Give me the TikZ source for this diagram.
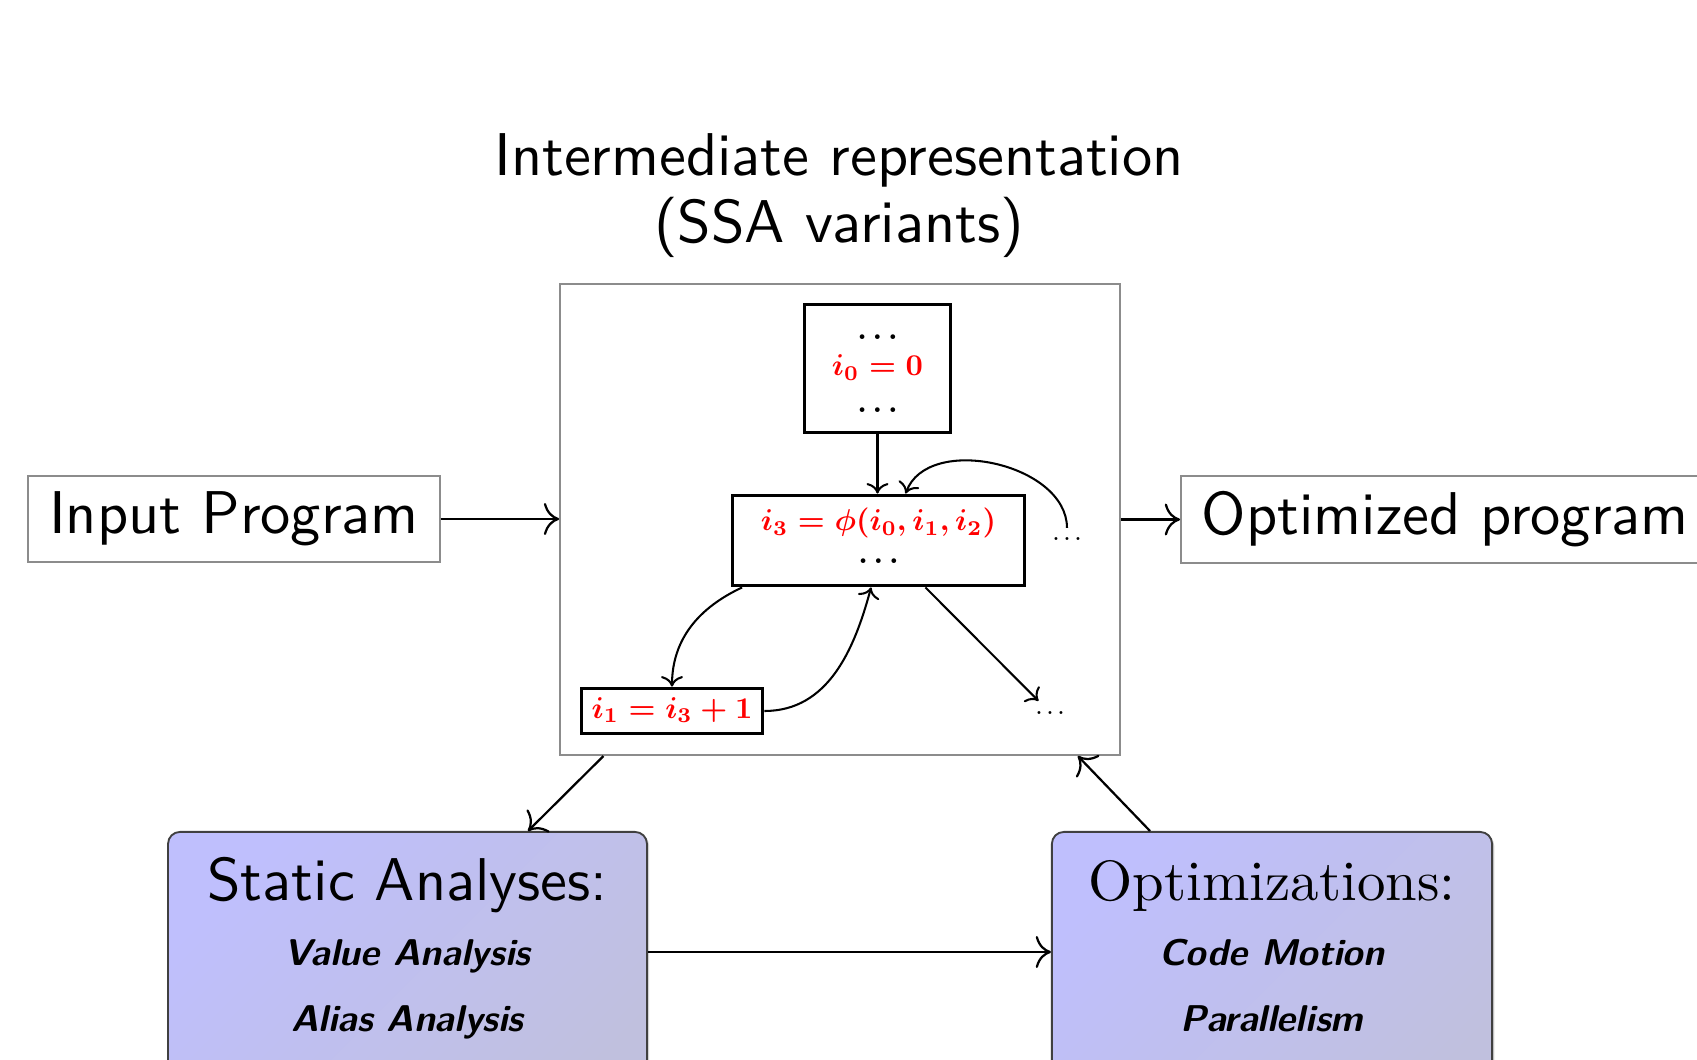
\documentclass[tikz,border=0pt]{standalone}
\usetikzlibrary{calc,shadows,arrows.meta}
\definecolor{blkA}{RGB}{191,191,253}
\definecolor{blkB}{RGB}{192,192,222}
\newcommand\BigSans[1]{\scalebox{1.62}{\fontsize{10}{11.1}\selectfont\sffamily #1}}
\newcommand\BigSerif[1]{\scalebox{1.525}{\fontsize{10}{11.1}\selectfont\rmfamily #1}}
\newcommand\BlockText[2]{\scalebox{0.81}{\fontsize{10}{#1}\selectfont\boldmath\begin{tabular}{@{}c@{}}#2\end{tabular}}}
\newcommand\SmallDots{.\kern0.7pt.\kern0.7pt.}
\tikzset{
  graybox/.style={draw=black!45, line width=0.5pt, inner sep=0pt},
  irbox/.style={draw=black!45, line width=0.5pt, inner sep=0pt},
  cfgblock/.style={draw=black, line width=0.8pt, inner sep=0pt},
  conn/.style={line width=0.55pt, ->},
  flow/.style={line width=0.6pt, -{To[scale=1.4]}},
  smalldots/.style={font=\fontsize{7}{8}\selectfont, inner sep=2.5pt, anchor=base},
  panel/.style={draw=black!75, line width=0.5pt, rounded corners=3.2pt,
    top color=blkA, bottom color=blkB, shading angle=45, inner sep=0pt,
    drop shadow={shadow xshift=0.6pt, shadow yshift=-0.6pt, opacity=0.35}},
  paneltitle/.style={anchor=base},
  panelitem/.style={anchor=base, font=\fontsize{10}{12}\selectfont\sffamily\bfseries\itshape},
}
\begin{document}
\begin{tikzpicture}[x=0.2683pt,y=0.2683pt]
\useasboundingbox (0,0) rectangle (1697,-1060);

% title
\node[anchor=base, inner sep=0pt] (title) at (839,-243)
  {\BigSans{\begin{tabular}[b]{@{}c@{}}Intermediate representation\\(SSA variants)\end{tabular}}};

% side boxes
\node[graybox, minimum width=110.5pt, minimum height=23.1pt] (in) at (234,-519) {\BigSans{Input Program}};
\node[graybox, anchor=west, inner xsep=5.6pt, minimum height=23.3pt] (out) at (1180,-519.5) {\BigSans{Optimized program}};

% IR frame
\node[irbox, minimum width=150.2pt, minimum height=126.4pt] (ir) at (840,-519.5) {};

% CFG blocks
\node[cfgblock, minimum width=39.4pt, minimum height=34.6pt] (b0) at (877.5,-368.5)
  {\BlockText{12.2pt}{$\dots$\\ \textcolor{red}{$i_0 = 0$}\\ $\dots$}};
\node[cfgblock, minimum width=78.1pt, minimum height=24.4pt] (phi) at (878.5,-540.5)
  {\BlockText{10.8pt}{\textcolor{red}{$i_3 = \phi(i_0, i_1, i_2)$}\\ $\dots$}};
\node[cfgblock, minimum width=48.8pt, minimum height=12.3pt] (i1) at (672,-711)
  {\BlockText{12pt}{\textcolor{red}{$i_1 = i_3 + 1$}}};
\node[smalldots] (d1) at (1067,-541) {\SmallDots};
\node[smalldots] (d2) at (1050,-714) {\SmallDots};

\draw[conn] (b0.south) -- (b0.south |- phi.north);
\draw[conn] (d1.north) to[out=90,in=70] (phi.60);
\draw[conn] (phi.199) to[out=205,in=90] (i1.north);
\draw[conn] (i1.east) to[out=0,in=-105] (phi.261);
\draw[conn] (phi.-45) -- (d2);

% panels
\node[panel, minimum width=128.5pt, minimum height=80pt, anchor=north] (sa) at (407.5,-831) {};
\node[panel, minimum width=118.1pt, minimum height=80pt, anchor=north] (op) at (1272,-831) {};
\node[paneltitle] (sat) at (407.5,-900) {\BigSans{Static Analyses:}};
\node[panelitem] (sa1) at (407.5,-966) {Value Analysis};
\node[panelitem] (sa2) at (407.5,-1031) {Alias Analysis};
\node[paneltitle] (opt) at (1272,-900) {\BigSerif{Optimizations:}};
\node[panelitem] (op1) at (1272,-966) {Code Motion};
\node[panelitem] (op2) at (1272,-1031) {Parallelism};

% flows
\draw[flow] (in.east) -- (in.east -| ir.west);
\draw[flow] (ir.east |- out.west) -- (out.west);
\draw[flow] (ir.-135.2) -- ($(sa.north)+(120.5,0)$);
\draw[flow] ($(op.north)+(-122,0)$) -- ($(ir.south east)+(-43,0)$);
\draw[flow] ($(sa.north east)+(0,-121)$) -- ($(op.north west)+(0,-121)$);
\end{tikzpicture}
\end{document}
